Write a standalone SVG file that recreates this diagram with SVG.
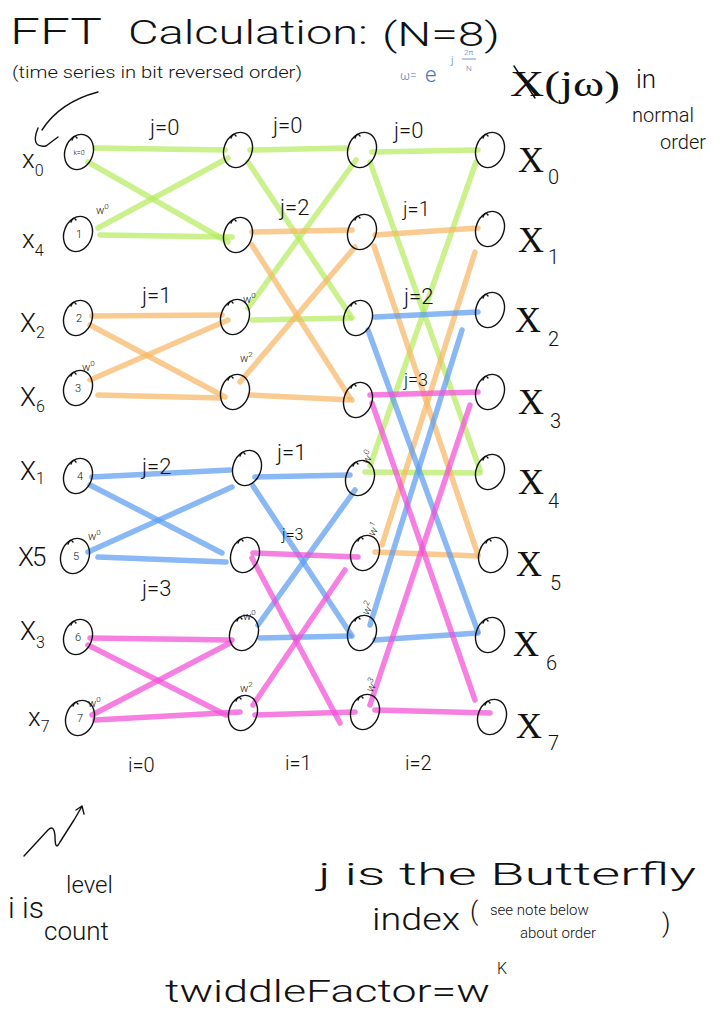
<svg xmlns="http://www.w3.org/2000/svg" width="728" height="1010" viewBox="0 0 728 1010">
<style>
text{font-family:Roboto,"Liberation Sans","DejaVu Sans",sans-serif;font-weight:300;fill:#111}
.ink{fill:none;stroke:#111;stroke-width:1.4;stroke-linecap:round;stroke-linejoin:round}
.c line{stroke-width:5.5;stroke-linecap:round;opacity:.72}
.g line{stroke:#b6ec60}
.o line{stroke:#f8b866}
.b line{stroke:#5c9ef0}
.p line{stroke:#f250d6}
.nl{font-size:11px;text-anchor:middle}
.j{font-size:22px}
.tw{font-size:11px}
.sup{font-size:8px}
.xl{font-size:26px}
.xs{font-size:16px}
.XL{font-family:"Liberation Serif",serif;font-weight:normal;font-size:36px}
.XS{font-size:20px}
.bl{fill:#4a78c0}
</style>
<defs>
<g id="nd" class="ink"><ellipse rx="14" ry="18" transform="rotate(20)"/><path d="M-7 -12 q2 -6 5 -2"/></g>
</defs>
<rect width="728" height="1010" fill="#fff"/>

<!-- header -->
<text x="10" y="44" font-size="36" textLength="92" lengthAdjust="spacingAndGlyphs">FFT</text>
<text x="128" y="44" font-size="34" textLength="240" lengthAdjust="spacingAndGlyphs">Calculation:</text>
<text x="382" y="46" font-size="34" textLength="118" lengthAdjust="spacingAndGlyphs">(N=8)</text>
<text x="12" y="78" font-size="16" textLength="290" lengthAdjust="spacingAndGlyphs">(time series in bit reversed order)</text>
<text x="400" y="80" font-size="12" class="bl">ω=</text>
<text x="425" y="82" font-size="22" class="bl">e</text>
<text x="451" y="64" font-size="11" class="bl">j</text>
<text x="464" y="55" font-size="8" class="bl">2π</text>
<line x1="462" y1="59" x2="476" y2="59" stroke="#4a78c0" stroke-width="0.8"/>
<text x="466" y="71" font-size="8" class="bl">N</text>
<text x="510" y="96" class="XL" textLength="110" lengthAdjust="spacingAndGlyphs">X(jω)</text>
<path class="ink" d="M514 66 L535 98"/>
<text x="636" y="88" font-size="26">in</text>
<text x="632" y="122" font-size="20">normal</text>
<text x="660" y="149" font-size="20">order</text>
<path class="ink" d="M98 92 Q60 102 42 130 M38 128 Q30 148 46 146 L58 137"/>

<!-- connectors -->
<g id="connectors" class="c">
<g class="g">
<line x1="95" y1="148" x2="225" y2="150"/><line x1="88" y1="162" x2="228" y2="242"/>
<line x1="98" y1="228" x2="228" y2="158"/><line x1="100" y1="235" x2="232" y2="237"/>
<line x1="250" y1="150" x2="348" y2="148"/><line x1="248" y1="162" x2="352" y2="318"/>
<line x1="248" y1="308" x2="356" y2="160"/><line x1="252" y1="320" x2="350" y2="318"/>
<line x1="372" y1="152" x2="478" y2="150"/><line x1="370" y1="162" x2="480" y2="470"/>
<line x1="370" y1="466" x2="476" y2="162"/><line x1="365" y1="472" x2="480" y2="473"/>
</g>
<g class="o">
<line x1="92" y1="316" x2="222" y2="315"/><line x1="90" y1="325" x2="225" y2="397"/>
<line x1="90" y1="380" x2="228" y2="320"/><line x1="98" y1="395" x2="220" y2="398"/>
<line x1="252" y1="232" x2="352" y2="230"/><line x1="252" y1="245" x2="350" y2="398"/>
<line x1="240" y1="382" x2="355" y2="247"/><line x1="250" y1="395" x2="352" y2="400"/>
<line x1="375" y1="235" x2="478" y2="228"/><line x1="374" y1="246" x2="478" y2="555"/>
<line x1="382" y1="545" x2="475" y2="252"/><line x1="375" y1="552" x2="478" y2="556"/>
</g>
<g class="b">
<line x1="92" y1="477" x2="230" y2="470"/><line x1="90" y1="485" x2="222" y2="553"/>
<line x1="88" y1="552" x2="232" y2="487"/><line x1="98" y1="557" x2="226" y2="562"/>
<line x1="255" y1="477" x2="350" y2="475"/><line x1="253" y1="486" x2="352" y2="636"/>
<line x1="258" y1="625" x2="355" y2="490"/><line x1="260" y1="638" x2="350" y2="636"/>
<line x1="375" y1="317" x2="478" y2="312"/><line x1="368" y1="330" x2="478" y2="632"/>
<line x1="370" y1="625" x2="462" y2="330"/><line x1="375" y1="640" x2="478" y2="633"/>
</g>
<g class="p">
<line x1="90" y1="638" x2="232" y2="640"/><line x1="88" y1="645" x2="226" y2="715"/>
<line x1="92" y1="715" x2="230" y2="643"/><line x1="95" y1="720" x2="240" y2="712"/>
<line x1="253" y1="553" x2="358" y2="557"/><line x1="252" y1="558" x2="340" y2="723"/>
<line x1="253" y1="705" x2="345" y2="570"/><line x1="255" y1="715" x2="355" y2="712"/>
<line x1="370" y1="395" x2="478" y2="392"/><line x1="372" y1="403" x2="475" y2="700"/>
<line x1="370" y1="705" x2="470" y2="405"/><line x1="375" y1="710" x2="490" y2="713"/>
</g>
</g>

<!-- column 0 -->
<g id="n0_0"><use href="#nd" x="79" y="152"/><text x="79" y="155" font-size="7" text-anchor="middle">k=0</text></g>
<g id="n0_1"><use href="#nd" x="78" y="234"/><text class="nl" x="79" y="238">1</text></g>
<g id="n0_2"><use href="#nd" x="78" y="318"/><text class="nl" x="79" y="322">2</text></g>
<g id="n0_3"><use href="#nd" x="78" y="388"/><text class="nl" x="78" y="392">3</text></g>
<g id="n0_4"><use href="#nd" x="78" y="476"/><text class="nl" x="80" y="480">4</text></g>
<g id="n0_5"><use href="#nd" x="75" y="556"/><text class="nl" x="76" y="560">5</text></g>
<g id="n0_6"><use href="#nd" x="78" y="637"/><text class="nl" x="78" y="641">6</text></g>
<g id="n0_7"><use href="#nd" x="80" y="718"/><text class="nl" x="80" y="722">7</text></g>
<!-- column 1 -->
<g id="n1_0"><use href="#nd" x="238" y="150"/></g>
<g id="n1_1"><use href="#nd" x="238" y="235"/></g>
<g id="n1_2"><use href="#nd" x="235" y="317"/></g>
<g id="n1_3"><use href="#nd" x="235" y="392"/></g>
<g id="n1_4"><use href="#nd" x="247" y="468"/></g>
<g id="n1_5"><use href="#nd" x="245" y="555"/></g>
<g id="n1_6"><use href="#nd" x="244" y="633"/></g>
<g id="n1_7"><use href="#nd" x="243" y="713"/></g>
<!-- column 2 -->
<g id="n2_0"><use href="#nd" x="362" y="150"/></g>
<g id="n2_1"><use href="#nd" x="362" y="232"/></g>
<g id="n2_2"><use href="#nd" x="358" y="318"/></g>
<g id="n2_3"><use href="#nd" x="358" y="400"/></g>
<g id="n2_4"><use href="#nd" x="360" y="478"/></g>
<g id="n2_5"><use href="#nd" x="365" y="553"/></g>
<g id="n2_6"><use href="#nd" x="362" y="633"/></g>
<g id="n2_7"><use href="#nd" x="365" y="712"/></g>
<!-- column 3 -->
<g id="n3_0"><use href="#nd" x="490" y="150"/><text class="XL" x="518" y="172">X</text><text class="XS" x="548" y="184">0</text></g>
<g id="n3_1"><use href="#nd" x="490" y="229"/><text class="XL" x="518" y="252">X</text><text class="XS" x="548" y="264">1</text></g>
<g id="n3_2"><use href="#nd" x="490" y="310"/><text class="XL" x="515" y="332">X</text><text class="XS" x="548" y="346">2</text></g>
<g id="n3_3"><use href="#nd" x="490" y="392"/><text class="XL" x="518" y="414">X</text><text class="XS" x="550" y="428">3</text></g>
<g id="n3_4"><use href="#nd" x="490" y="472"/><text class="XL" x="518" y="494">X</text><text class="XS" x="548" y="508">4</text></g>
<g id="n3_5"><use href="#nd" x="493" y="555"/><text class="XL" x="516" y="576">X</text><text class="XS" x="550" y="590">5</text></g>
<g id="n3_6"><use href="#nd" x="490" y="635"/><text class="XL" x="513" y="656">X</text><text class="XS" x="546" y="670">6</text></g>
<g id="n3_7"><use href="#nd" x="492" y="717"/><text class="XL" x="516" y="738">X</text><text class="XS" x="548" y="750">7</text></g>

<!-- input labels -->
<text class="xl" x="22" y="168">x<tspan class="xs" dy="8">0</tspan></text>
<text class="xl" x="22" y="248">x<tspan class="xs" dy="8">4</tspan></text>
<text class="xl" x="20" y="332">X<tspan class="xs" dy="6">2</tspan></text>
<text class="xl" x="20" y="406">X<tspan class="xs" dy="6">6</tspan></text>
<text class="xl" x="20" y="480">X<tspan class="xs" dy="4">1</tspan></text>
<text class="xl" x="18" y="566">X<tspan font-size="26" dx="-2">5</tspan></text>
<text class="xl" x="20" y="640">X<tspan class="xs" dy="8">3</tspan></text>
<text class="xl" x="28" y="726">x<tspan class="xs" dy="6">7</tspan></text>

<!-- butterfly index labels -->
<text class="j" x="150" y="135">j=0</text>
<text class="j" x="142" y="303">j=1</text>
<text class="j" x="142" y="474">j=2</text>
<text class="j" x="142" y="596">j=3</text>
<text class="j" x="273" y="133">j=0</text>
<text class="j" x="280" y="215">j=2</text>
<text class="j" x="277" y="460">j=1</text>
<text x="282" y="540" font-size="16">j=3</text>
<text class="j" x="394" y="138">j=0</text>
<text x="403" y="216" font-size="20">j=1</text>
<text class="j" x="404" y="304">j=2</text>
<text x="404" y="386" font-size="18">j=3</text>

<!-- twiddle labels -->
<text class="tw" x="96" y="214">w<tspan class="sup" dy="-5">0</tspan></text>
<text class="tw" x="82" y="371">w<tspan class="sup" dy="-5">0</tspan></text>
<text class="tw" x="88" y="540">w<tspan class="sup" dy="-5">0</tspan></text>
<text class="tw" x="88" y="707">w<tspan class="sup" dy="-5">0</tspan></text>
<text class="tw" x="243" y="303">w<tspan class="sup" dy="-5">0</tspan></text>
<text class="tw" x="240" y="362">w<tspan class="sup" dy="-5">2</tspan></text>
<text class="tw" x="243" y="620">w<tspan class="sup" dy="-5">0</tspan></text>
<text class="tw" x="240" y="692">w<tspan class="sup" dy="-5">2</tspan></text>
<text class="tw" x="368" y="465" transform="rotate(-60 368 465)">w<tspan class="sup" dy="-5">0</tspan></text>
<text class="tw" x="374" y="537" transform="rotate(-60 374 537)">w<tspan class="sup" dy="-5">1</tspan></text>
<text class="tw" x="368" y="616" transform="rotate(-60 368 616)">w<tspan class="sup" dy="-5">2</tspan></text>
<text class="tw" x="372" y="693" transform="rotate(-60 372 693)">w<tspan class="sup" dy="-5">3</tspan></text>

<!-- level labels -->
<text x="128" y="772" font-size="20">i=0</text>
<text x="285" y="770" font-size="20">i=1</text>
<text x="405" y="770" font-size="20">i=2</text>

<!-- bottom notes -->
<path class="ink" d="M24 856 L48 830 Q54 824 55 836 Q55 852 60 842 L74 820 Q80 810 82 806 M76 810 L82 806 L84 814"/>
<text x="8" y="918" font-size="30">i is</text>
<text x="66" y="893" font-size="24">level</text>
<text x="44" y="940" font-size="26">count</text>
<text x="318" y="885" font-size="32" textLength="378" lengthAdjust="spacingAndGlyphs">j is the Butterfly</text>
<text x="372" y="930" font-size="32" textLength="88" lengthAdjust="spacingAndGlyphs">index</text>
<text x="470" y="920" font-size="26">(</text>
<text x="490" y="915" font-size="15">see note below</text>
<text x="520" y="938" font-size="15">about order</text>
<text x="662" y="932" font-size="26">)</text>
<text x="165" y="1002" font-size="32" textLength="325" lengthAdjust="spacingAndGlyphs">twiddleFactor=w</text>
<text x="497" y="974" font-size="16">K</text>
</svg>
